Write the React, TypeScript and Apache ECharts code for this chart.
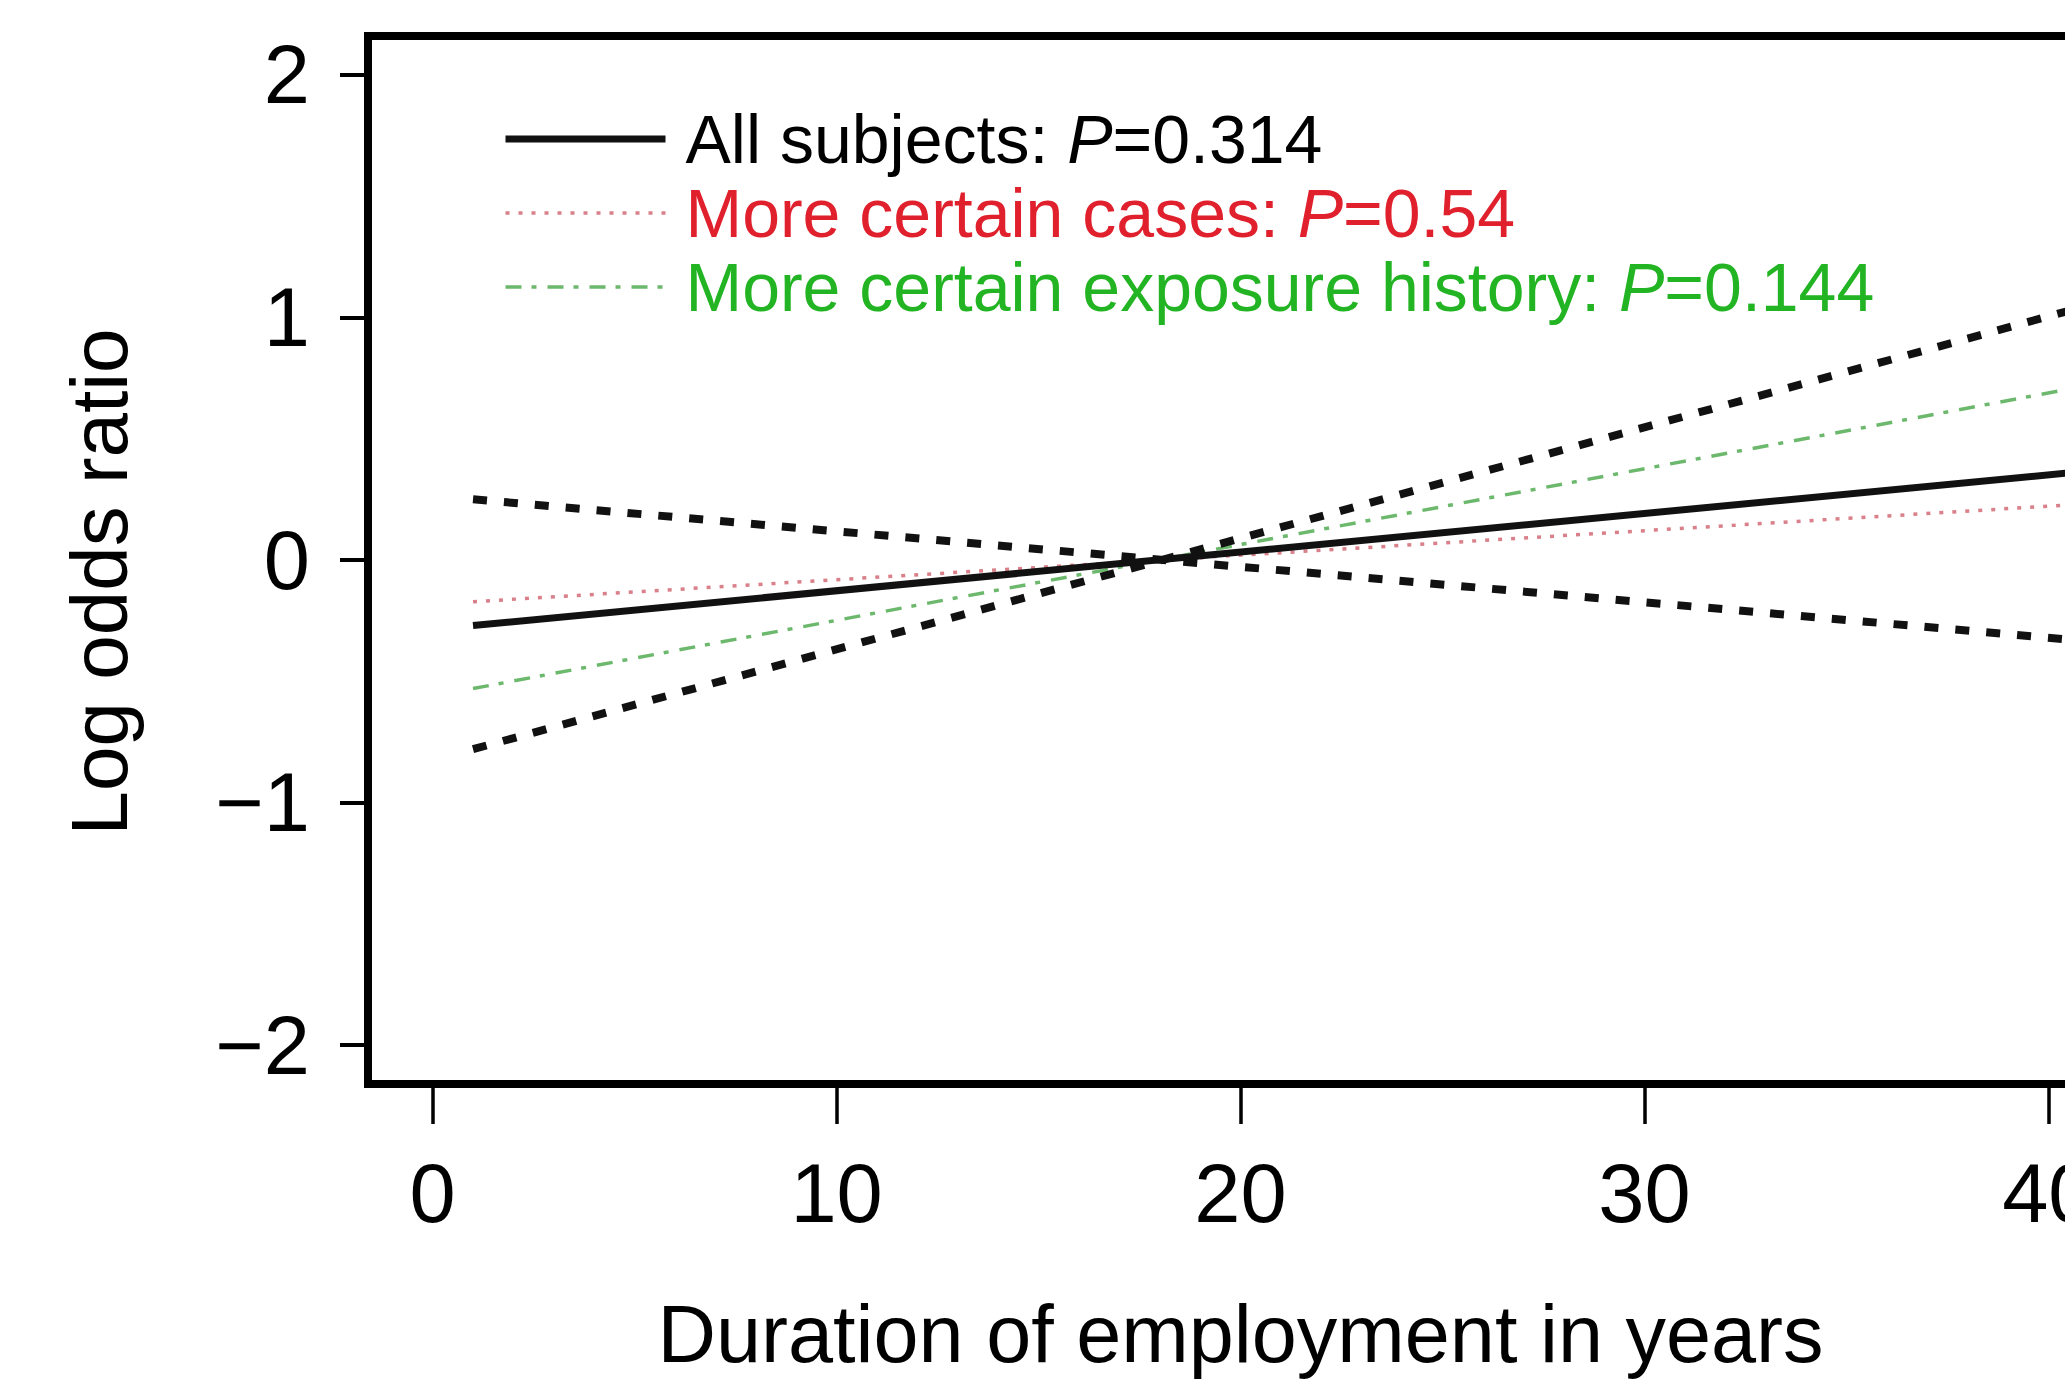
import React, { useEffect, useRef } from 'react';
import * as echarts from 'echarts';

// Duration of employment (years) at which each fitted line is read
const xDuration = [1, 41];
// Log odds ratio at those durations
const allSubjects = [-0.27, 0.367];
const moreCertainCases = [-0.172, 0.232];
const moreCertainExposure = [-0.53, 0.72];
const ciRising = [-0.78, 1.05];
const ciFalling = [0.25, -0.335];

const xTicks = [0, 10, 20, 30, 40];
const yTicks = [-2, -1, 0, 1, 2];

const legendNames = ['All subjects', 'More certain cases', 'More certain exposure history'];
const pValues = ['0.314', '0.54', '0.144'];
const legendTextColors = ['#000000', '#e0202c', '#22b422'];
const legendLineWidths = [7, 3.5, 3.5];

const FONT = '"Liberation Sans", Arial, Helvetica, sans-serif';

const toPoints = (ys: number[]) => xDuration.map((x, i) => [x, ys[i]]);

export default function App() {
  const ref = useRef<HTMLDivElement>(null);

  useEffect(() => {
    if (!ref.current) return;
    const chart = echarts.init(ref.current, null, { renderer: 'svg' });
    chart.setOption({
      animation: false,
      backgroundColor: '#ffffff',
      grid: {
        left: 368,
        top: 36,
        bottom: 299,
        width: 1745,
        show: true,
        borderColor: '#000',
        borderWidth: 8,
        backgroundColor: 'transparent',
      },
      xAxis: {
        type: 'value',
        min: -1.6,
        max: 41.6,
        axisLine: { show: false, onZero: false },
        splitLine: { show: false },
        axisTick: {
          show: true,
          customValues: xTicks,
          length: 40,
          lineStyle: { color: '#000', width: 3.5 },
        },
        axisLabel: {
          customValues: xTicks,
          margin: 68,
          fontSize: 83,
          color: '#000',
          fontFamily: FONT,
        },
        name: 'Duration of employment in years',
        nameLocation: 'middle',
        nameGap: 209,
        nameTextStyle: { fontSize: 81, color: '#000', fontFamily: FONT },
      },
      yAxis: {
        type: 'value',
        min: -2.16,
        max: 2.16,
        axisLine: { show: false, onZero: false },
        splitLine: { show: false },
        axisTick: {
          show: true,
          customValues: yTicks,
          length: 28,
          lineStyle: { color: '#000', width: 4 },
        },
        axisLabel: {
          customValues: yTicks,
          margin: 58,
          fontSize: 83,
          color: '#000',
          fontFamily: FONT,
          formatter: (v: number) => String(v).replace('-', '\u2212'),
        },
        name: 'Log odds ratio',
        nameLocation: 'middle',
        nameGap: 229,
        nameTextStyle: { fontSize: 80, color: '#000', fontFamily: FONT, padding: [0, 44, 0, 0] },
      },
      legend: {
        data: legendNames.map((n, i) => ({
          name: n,
          textStyle: { color: legendTextColors[i] },
          lineStyle: { width: legendLineWidths[i] },
          itemStyle: { opacity: 0, color: 'transparent', borderWidth: 0 },
        })),
        orient: 'vertical',
        left: 502,
        top: 102,
        itemWidth: 160,
        itemHeight: 20,
        itemGap: 0,
        padding: 0,
        selectedMode: false,
        itemStyle: { opacity: 0, color: 'transparent', borderWidth: 0 },
        formatter: (name: string) => {
          const i = legendNames.indexOf(name);
          return `{n|${name}: }{i|P}{n|=${pValues[i]}}`;
        },
        textStyle: {
          fontSize: 68,
          fontFamily: FONT,
          lineHeight: 74,
          padding: [0, 0, 0, 15],
          rich: {
            n: { fontSize: 68, fontFamily: FONT, lineHeight: 74 },
            i: { fontSize: 68, fontFamily: FONT, fontStyle: 'italic', lineHeight: 74 },
          },
        },
      },
      series: [
        {
          name: legendNames[1],
          type: 'line',
          data: toPoints(moreCertainCases),
          symbol: 'none',
          lineStyle: { color: '#d9808a', width: 3.5, type: [4, 9] },
          z: 2,
        },
        {
          name: legendNames[2],
          type: 'line',
          data: toPoints(moreCertainExposure),
          symbol: 'none',
          lineStyle: { color: '#6cb86c', width: 3.5, type: [16, 10, 5, 11] },
          z: 2,
        },
        {
          name: legendNames[0],
          type: 'line',
          data: toPoints(allSubjects),
          symbol: 'none',
          lineStyle: { color: '#111111', width: 7, type: 'solid' },
          z: 3,
        },
        {
          name: 'All subjects CI (upper slope)',
          type: 'line',
          data: toPoints(ciRising),
          symbol: 'none',
          lineStyle: { color: '#111111', width: 8, type: [14, 17] },
          z: 4,
        },
        {
          name: 'All subjects CI (lower slope)',
          type: 'line',
          data: toPoints(ciFalling),
          symbol: 'none',
          lineStyle: { color: '#111111', width: 8, type: [14, 17] },
          z: 4,
        },
      ],
    });
    return () => chart.dispose();
  }, []);

  return (
    <div
      style={{
        position: 'fixed',
        left: 0,
        top: 0,
        width: 2065,
        height: 1383,
        overflow: 'hidden',
        background: '#fff',
      }}
    >
      <div ref={ref} style={{ width: 2140, height: 1383 }} />
    </div>
  );
}
